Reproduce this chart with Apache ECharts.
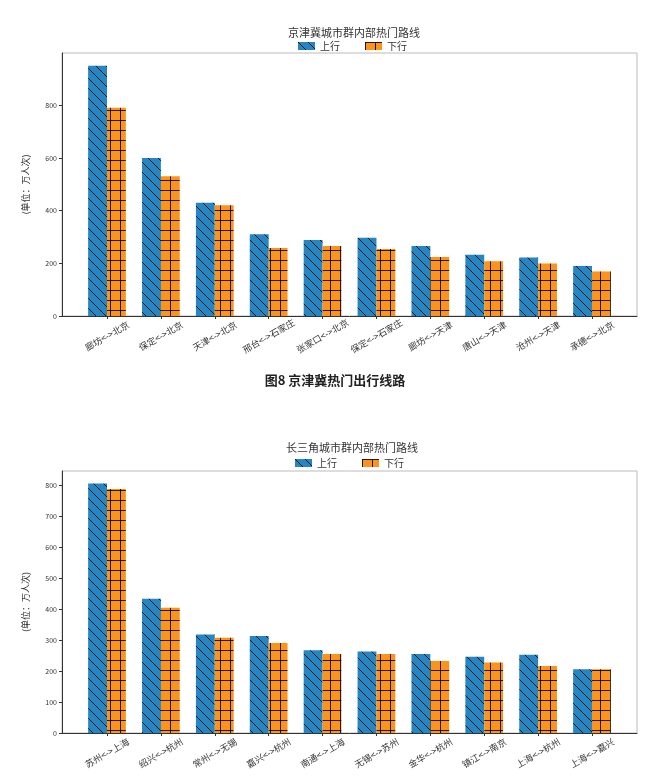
<!DOCTYPE html>
<html>
<head>
<meta charset="utf-8">
<script src="https://cdn.jsdelivr.net/npm/echarts@6/dist/echarts.min.js"></script>
<style>
html, body { margin: 0; padding: 0; background: #fff; }
#chart { width: 664px; height: 783px; }
</style>
</head>
<body>
<div id="chart"></div>
<script>
// 京津冀城市群
const jjjRoutes = ['廊坊<->北京', '保定<->北京', '天津<->北京', '邢台<->石家庄', '张家口<->北京',
    '保定<->石家庄', '廊坊<->天津', '唐山<->天津', '沧州<->天津', '承德<->北京'];
const jjjUp = [950, 600, 430, 310, 288, 297, 266, 232, 222, 190];
const jjjDown = [790, 530, 420, 258, 266, 254, 224, 208, 199, 169];
const jjjTicks = [0, 200, 400, 600, 800];

// 长三角城市群
const csjRoutes = ['苏州<->上海', '绍兴<->杭州', '常州<->无锡', '嘉兴<->杭州', '南通<->上海',
    '无锡<->苏州', '金华<->杭州', '镇江<->南京', '上海<->杭州', '上海<->嘉兴'];
const csjUp = [805, 433, 318, 313, 267, 263, 255, 246, 252, 206];
const csjDown = [787, 404, 307, 290, 255, 255, 232, 227, 216, 206];
const csjTicks = [0, 100, 200, 300, 400, 500, 600, 700, 800];

const FONT = '"Noto Sans CJK SC", "Noto Sans", sans-serif';
const BLUE = '#2586c2';
const ORANGE = '#fb941c';

// 斜线填充 (\\)
function hatchBack(bg) {
    const s = 10;
    const c = document.createElement('canvas');
    c.width = s; c.height = s;
    const ctx = c.getContext('2d');
    ctx.fillStyle = bg;
    ctx.fillRect(0, 0, s, s);
    ctx.strokeStyle = 'rgba(0,0,0,0.85)';
    ctx.lineWidth = 1;
    for (let k = -1; k <= 1; k++) {
        ctx.beginPath();
        ctx.moveTo(0, k * s);
        ctx.lineTo(s, s + k * s);
        ctx.stroke();
    }
    return c;
}

// 网格填充 (+)
function hatchPlus(bg) {
    const s = 10;
    const c = document.createElement('canvas');
    c.width = s; c.height = s;
    const ctx = c.getContext('2d');
    ctx.fillStyle = bg;
    ctx.fillRect(0, 0, s, s);
    ctx.fillStyle = 'rgba(0,0,0,0.85)';
    ctx.fillRect(0, 0, s, 1);
    ctx.fillRect(0, 0, 1, s);
    return c;
}

const upStyle = { color: { image: hatchBack(BLUE), repeat: 'repeat' } };
const downStyle = { color: { image: hatchPlus(ORANGE), repeat: 'repeat' } };

const grids = [
    { left: 62, top: 53, width: 575, height: 263 },
    { left: 62, top: 471, width: 575, height: 262 }
];

function xAxisFor(gridIndex, names) {
    return {
        type: 'value',
        gridIndex: gridIndex,
        min: -0.835,
        max: 9.835,
        splitLine: { show: false },
        axisLine: { show: true, onZero: false, lineStyle: { color: '#333', width: 1 } },
        axisTick: { show: true, length: 3, customValues: names.map((n, i) => i), lineStyle: { color: '#333' } },
        axisLabel: {
            customValues: names.map((n, i) => i),
            rotate: 30,
            align: 'center',
            verticalAlign: 'middle',
            fontSize: 9,
            color: '#333',
            fontFamily: FONT,
            margin: 20,
            formatter: v => names[Math.round(v)]
        }
    };
}

function yAxisFor(gridIndex, max, ticks) {
    return {
        type: 'value',
        gridIndex: gridIndex,
        min: 0,
        max: max,
        name: '(单位：万人次)',
        nameLocation: 'middle',
        nameRotate: 90,
        nameGap: 32,
        nameTextStyle: { fontSize: 9, color: '#333', fontFamily: FONT },
        splitLine: { show: false },
        axisLine: { show: true, onZero: false, lineStyle: { color: '#333', width: 1 } },
        axisTick: { show: true, length: 3, customValues: ticks, lineStyle: { color: '#333' } },
        axisLabel: { customValues: ticks, fontSize: 7, color: '#333', fontFamily: FONT, margin: 5 }
    };
}

function barSeries(name, values, axisIndex, style) {
    return {
        name: name,
        type: 'bar',
        xAxisIndex: axisIndex,
        yAxisIndex: axisIndex,
        barWidth: '35%',
        barGap: '0%',
        itemStyle: style,
        data: values.map((v, i) => [i, v])
    };
}

const chart = echarts.init(document.getElementById('chart'));

const option = {
    backgroundColor: '#fff',
    animation: false,
    title: [
        { text: '京津冀城市群内部热门路线', left: 349, top: 22, textAlign: 'center',
          textStyle: { fontSize: 11, fontWeight: 'normal', color: '#333', fontFamily: FONT } },
        { text: '图8 京津冀热门出行线路', left: 330, top: 369, textAlign: 'center',
          textStyle: { fontSize: 13, fontWeight: 'bold', color: '#222', fontFamily: FONT } },
        { text: '长三角城市群内部热门路线', left: 347, top: 437, textAlign: 'center',
          textStyle: { fontSize: 11, fontWeight: 'normal', color: '#333', fontFamily: FONT } }
    ],
    legend: [
        { data: ['上行', '下行'], left: 293, top: 36, itemWidth: 17, itemHeight: 8, itemGap: 25,
          icon: 'rect', textStyle: { fontSize: 10, color: '#333', fontFamily: FONT } },
        { data: ['上行', '下行'], left: 290, top: 453, itemWidth: 17, itemHeight: 8, itemGap: 25,
          icon: 'rect', textStyle: { fontSize: 10, color: '#333', fontFamily: FONT } }
    ],
    grid: grids.map(g => Object.assign({ show: true, borderColor: '#bbb', borderWidth: 1 }, g)),
    xAxis: [xAxisFor(0, jjjRoutes), xAxisFor(1, csjRoutes)],
    yAxis: [yAxisFor(0, 998, jjjTicks), yAxisFor(1, 845, csjTicks)],
    series: [
        barSeries('上行', jjjUp, 0, upStyle),
        barSeries('下行', jjjDown, 0, downStyle),
        barSeries('上行', csjUp, 1, upStyle),
        barSeries('下行', csjDown, 1, downStyle)
    ]
};

chart.setOption(option);
</script>
</body>
</html>
